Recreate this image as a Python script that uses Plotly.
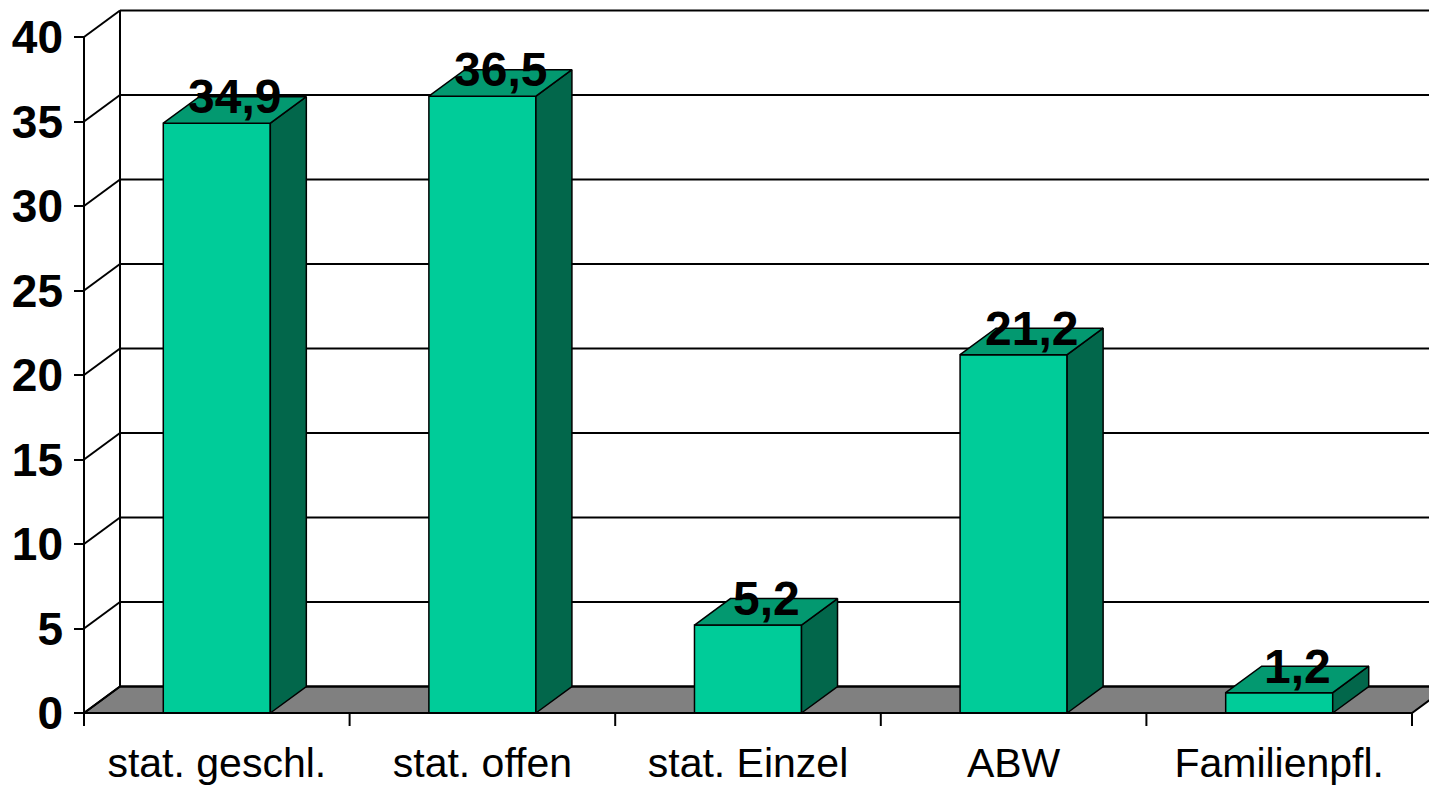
import plotly.graph_objects as go

# Chart data
categories = ["stat. geschl.", "stat. offen", "stat. Einzel", "ABW", "Familienpfl."]
values = [34.9, 36.5, 5.2, 21.2, 1.2]
y_ticks = [0, 5, 10, 15, 20, 25, 30, 35, 40]

# Canvas / pseudo-3D geometry (pixel scale of one category and one unit)
W, H = 1429, 785
CAT_PX = 265.6
UNIT_PX = 16.9
LEFT_PX, ZERO_PX, TOP_PX, BOTTOM_PX = 74, 713, 8, 726
DEPTH_X = 36 / CAT_PX          # depth offset in category units
DEPTH_Y = 26.5 / UNIT_PX       # depth offset in value units
BAR_W = 0.403

FRONT = "#00CC99"
TOP = "#039970"
SIDE = "#02674B"
FLOOR = "#808080"
LINE = "#000000"
FONT = "Liberation Sans, Arial"

x_range = [-(84 - LEFT_PX) / CAT_PX, (W - 84) / CAT_PX]
y_range = [-(BOTTOM_PX - ZERO_PX) / UNIT_PX, (ZERO_PX - TOP_PX) / UNIT_PX]
n = len(categories)
y_max = y_ticks[-1]
centers = [i + 0.5 for i in range(n)]

shapes = []
# floor
shapes.append(dict(
    type="path", xref="x", yref="y", layer="below",
    path=f"M 0,0 L {n},0 L {n + DEPTH_X},{DEPTH_Y} L {DEPTH_X},{DEPTH_Y} Z",
    fillcolor=FLOOR, line=dict(color=LINE, width=2)))
# back wall and side wall grid lines
for v in y_ticks:
    shapes.append(dict(type="line", xref="x", yref="y", layer="below",
                       x0=DEPTH_X, y0=v + DEPTH_Y, x1=x_range[1] + 1, y1=v + DEPTH_Y,
                       line=dict(color=LINE, width=2)))
    shapes.append(dict(type="line", xref="x", yref="y", layer="below",
                       x0=0, y0=v, x1=DEPTH_X, y1=v + DEPTH_Y,
                       line=dict(color=LINE, width=2)))
# back wall left edge
shapes.append(dict(type="line", xref="x", yref="y", layer="below",
                   x0=DEPTH_X, y0=DEPTH_Y, x1=DEPTH_X, y1=y_max + DEPTH_Y,
                   line=dict(color=LINE, width=2)))
# front value axis
shapes.append(dict(type="line", xref="x", yref="y", layer="below",
                   x0=0, y0=0, x1=0, y1=y_max, line=dict(color=LINE, width=2)))
# front category axis and its boundary ticks
shapes.append(dict(type="line", xref="x", yref="y",
                   x0=0, y0=0, x1=n, y1=0, line=dict(color=LINE, width=2)))
for b in range(n + 1):
    shapes.append(dict(type="line", xref="x", yref="y",
                       x0=b, y0=0, x1=b, y1=y_range[0],
                       line=dict(color=LINE, width=2)))

fig = go.Figure()

# front faces
fig.add_trace(go.Bar(
    x=centers, y=values, width=BAR_W,
    marker=dict(color=FRONT, line=dict(color=LINE, width=1.5)),
    hoverinfo="skip", showlegend=False))

# side and top faces
side_x, side_y, top_x, top_y = [], [], [], []
for c, v in zip(centers, values):
    r = c + BAR_W / 2
    l = c - BAR_W / 2
    side_x += [r, r + DEPTH_X, r + DEPTH_X, r, r, None]
    side_y += [0, DEPTH_Y, v + DEPTH_Y, v, 0, None]
    top_x += [l, r, r + DEPTH_X, l + DEPTH_X, l, None]
    top_y += [v, v, v + DEPTH_Y, v + DEPTH_Y, v, None]

fig.add_trace(go.Scatter(x=side_x, y=side_y, mode="lines", fill="toself",
                         fillcolor=SIDE, line=dict(color=LINE, width=1.5),
                         hoverinfo="skip", showlegend=False))
fig.add_trace(go.Scatter(x=top_x, y=top_y, mode="lines", fill="toself",
                         fillcolor=TOP, line=dict(color=LINE, width=1.5),
                         hoverinfo="skip", showlegend=False))

# value labels
annotations = []
for c, v in zip(centers, values):
    annotations.append(dict(
        x=c + DEPTH_X / 2, y=v + DEPTH_Y, xref="x", yref="y",
        text=f"{v:.1f}".replace(".", ","), showarrow=False,
        xanchor="center", yanchor="middle",
        font=dict(family=FONT, size=48, color="#000000", weight="bold")))

fig.update_layout(
    width=W, height=H,
    margin=dict(l=LEFT_PX, r=0, t=TOP_PX, b=H - BOTTOM_PX),
    paper_bgcolor="white", plot_bgcolor="white",
    shapes=shapes, annotations=annotations,
    showlegend=False,
    xaxis=dict(range=x_range, tickvals=centers, ticktext=categories,
               ticks="", showgrid=False, zeroline=False, showline=False,
               ticklabelstandoff=9,
               tickfont=dict(family=FONT, size=41, color="#000000")),
    yaxis=dict(range=y_range, tickvals=y_ticks, ticktext=[str(t) for t in y_ticks],
               ticks="inside", ticklen=10, tickwidth=2, tickcolor=LINE,
               showgrid=False, zeroline=False, showline=False,
               ticklabelstandoff=10,
               tickfont=dict(family=FONT, size=46, color="#000000", weight="bold")),
)

fig.write_html("out.html")
